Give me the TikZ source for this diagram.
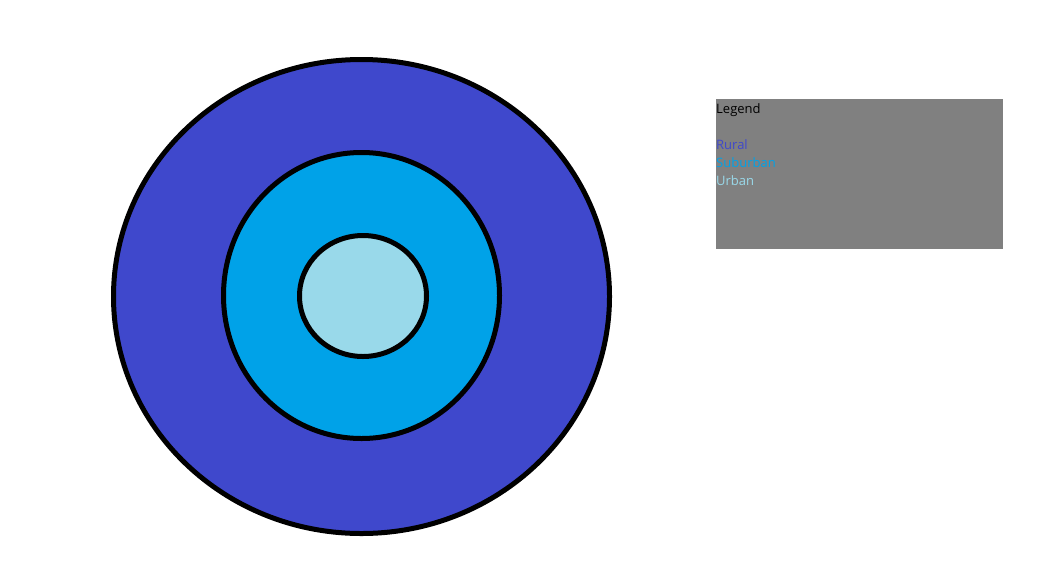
\documentclass[tikz,border=0pt]{standalone}
\usepackage{fontspec}
\setmainfont{Open Sans}
\definecolor{rural}{HTML}{3F48CC}
\definecolor{suburban}{HTML}{00A2E8}
\definecolor{urban}{HTML}{99D9EA}
\definecolor{legendgray}{HTML}{808080}
\begin{document}
\begin{tikzpicture}[x=1pt,y=-1pt,
  ring/.style={draw=black,line width=5pt},
  legtext/.style={anchor=base west,inner sep=0pt,font=\fontsize{13}{16}\selectfont}]
\useasboundingbox (0,0) rectangle (1038,571);
\path[ring,fill=rural] (361.5,296.5) ellipse [x radius=248, y radius=237];
\path[ring,fill=suburban] (361.5,295.5) ellipse [x radius=138, y radius=143];
\path[ring,fill=urban] (363,296) ellipse [x radius=63.5, y radius=60.5];
\node[fill=legendgray,minimum width=287pt,minimum height=150pt,inner sep=0pt,anchor=north west] (legend) at (716,99) {};
\node[legtext] (lt) at (716,113) {Legend};
\node[legtext,text=rural] (lr) at (716,149) {Rural};
\node[legtext,text=suburban] (ls) at (716,167) {Suburban};
\node[legtext,text=urban] (lu) at (716,185) {Urban};
\end{tikzpicture}
\end{document}
